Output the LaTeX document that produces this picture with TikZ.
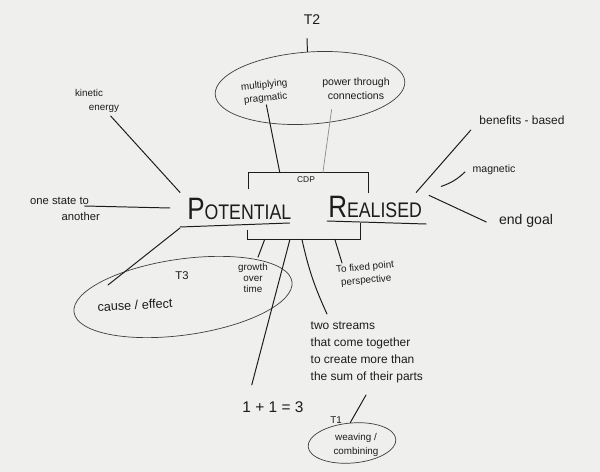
\documentclass[tikz,border=0pt]{standalone}
\usepackage{fontspec}
\setmainfont{Liberation Sans}
\usetikzlibrary{positioning, calc, shapes.geometric}
\definecolor{paper}{HTML}{EFEFED}
\definecolor{ink}{HTML}{1C1C1C}
\definecolor{inkLight}{HTML}{8A8A8A}
\tikzset{
  pen/.style={draw=ink, line width=0.7pt, line cap=round},
  penlight/.style={draw=inkLight, line width=0.5pt, line cap=round},
  bubble/.style={draw=ink!85, ellipse, line width=0.5pt, inner sep=0pt},
  note/.style={font=\fontsize{8.5}{12.2}\selectfont, text=ink, inner sep=1pt, align=left},
  smallnote/.style={font=\fontsize{7}{9.5}\selectfont, text=ink, inner sep=1pt, align=center},
  tag/.style={font=\fontsize{8}{9}\selectfont, text=ink, inner sep=1pt},
  title/.style={text=ink, inner sep=0pt, anchor=base west},
}
\newcommand{\bigsc}[2]{\scalebox{0.84}[1]{{\fontsize{22}{22}\selectfont #1}{\fontsize{15}{15}\selectfont #2}}}

\begin{document}
\begin{tikzpicture}[x=0.025cm, y=-0.025cm]
  \fill[paper] (0,0) rectangle (600,472);
  \useasboundingbox (0,0) rectangle (600,472);

  % === CDP frame and the two words ===
  \node[minimum width=2.975cm, minimum height=1.65cm, inner sep=0pt] (cdpbox) at (308.5,206) {};
  \node[tag, font=\fontsize{6}{7}\selectfont] (cdp) at (306,180) {CDP};
  \node[title] (potential) at (187,220) {\bigsc{P}{OTENTIAL}};
  \node[title] (realised) at (328,218) {\bigsc{R}{EALISED}};

  \draw[pen] ([shift={(0,16)}]cdpbox.north west) -- (cdpbox.north west) -- (cdpbox.north east) -- ++(0,20);
  \draw[pen] ([shift={(-1,-9)}]cdpbox.south west) -- ++(0,9) -- ++(113,0) -- ++(0,-16);
  \draw[pen] ([shift={(-7,7)}]potential.base west) -- ([shift={(-2,3)}]potential.base east);
  \draw[pen] ([shift={(-1,3)}]realised.base west) -- ([shift={(4,6)}]realised.base east);

  % === T2 ===
  \node[tag, font=\fontsize{10}{11}\selectfont] (t2) at (312,20) {T2};
  \node[bubble, minimum width=4.75cm, minimum height=1.8cm, rotate=4] (t2ell) at (310,88) {};
  \node[smallnote, rotate=6] (mult) at (265,92) {multiplying\\pragmatic};
  \node[smallnote, font=\fontsize{7.5}{10}\selectfont] (power) at (356,89) {power through\\connections};
  \draw[pen] ([shift={(-5,12)}]t2.south) -- (t2ell.north);
  \draw[pen] (mult.south) -- ($(cdpbox.north west)!0.26!(cdpbox.north east)$);
  \draw[penlight] ([shift={(11,8)}]power.south west) -- ($(cdpbox.north west)!0.62!(cdpbox.north east)$);

  % === left side ===
  \node[smallnote, align=left] (kinetic) at (97,101) {kinetic\\\hspace*{1.4em}energy};
  \node[note, font=\fontsize{8}{11}\selectfont] (onestate) at (65,209) {one state to\\\hspace*{2.8em}another};
  \draw[pen] ([shift={(-10,2)}]kinetic.south east) -- ([shift={(-7,-6)}]potential.north west);
  \draw[pen] ([shift={(-17,-3)}]onestate.east) -- ([shift={(-17,-12)}]potential.base west);

  % === T3 ===
  \node[bubble, minimum width=5.5cm, minimum height=1.9cm, rotate=8] (t3ell) at (183,297) {};
  \node[tag] (t3) at (182,276) {T3};
  \node[note, font=\fontsize{9}{11}\selectfont, rotate=3] (cause) at (135,305) {cause / effect};
  \node[smallnote, font=\fontsize{7}{7.5}\selectfont] (growth) at (253,278) {growth\\over\\time};
  \draw[pen] ([shift={(-7,8)}]potential.base west) -- ($(t3ell.center)+(-75,-12)$);

  % === below the frame ===
  \node[smallnote, rotate=5, anchor=north west] (fixed) at (334,264) {To fixed point\\perspective};
  \node[note, anchor=north west] (streams) at (309,320) {two streams\\that come together\\to create more than\\the sum of their parts};
  \node[tag, font=\fontsize{11}{12}\selectfont] (oneplus) at (273,407) {1 + 1 = 3};
  \draw[pen] ($(cdpbox.south west)!0.134!(cdpbox.south east)$) -- ([shift={(5,-5)}]growth.north);
  \draw[pen] ($(cdpbox.south west)!0.345!(cdpbox.south east)$) -- ([shift={(11,-15)}]oneplus.north west);
  \draw[pen] ($(cdpbox.south west)!0.445!(cdpbox.south east)$) to[bend right=6] ([shift={(18,-6)}]streams.north west);
  \draw[pen] ($(cdpbox.south west)!0.72!(cdpbox.south east)$) -- ([shift={(8,-1)}]fixed.north west);

  % === T1 ===
  \node[bubble, minimum width=2.2cm, minimum height=1.0cm, rotate=5] (t1ell) at (352,443) {};
  \node[tag, font=\fontsize{7}{8}\selectfont] (t1) at (336,420) {T1};
  \node[smallnote] (weaving) at (356,445) {weaving /\\combining};
  \draw[pen] ([shift={(57,10)}]streams.south west) -- (t1ell.north);

  % === right side ===
  \node[note] (benefits) at (522,120) {benefits - based};
  \node[smallnote, font=\fontsize{7.5}{9}\selectfont] (magnetic) at (494,170) {magnetic};
  \node[note, font=\fontsize{10}{12}\selectfont] (endgoal) at (526,221) {end goal};
  \draw[pen] ([shift={(-7,4)}]benefits.south west) -- ([shift={(-6,-4)}]realised.north east);
  \draw[pen] ([shift={(-6,2)}]magnetic.west) to[bend left=12] ([shift={(19,-10)}]realised.north east);
  \draw[pen] ([shift={(7,-1)}]realised.north east) -- ([shift={(-11,1)}]endgoal.west);

\end{tikzpicture}
\end{document}
